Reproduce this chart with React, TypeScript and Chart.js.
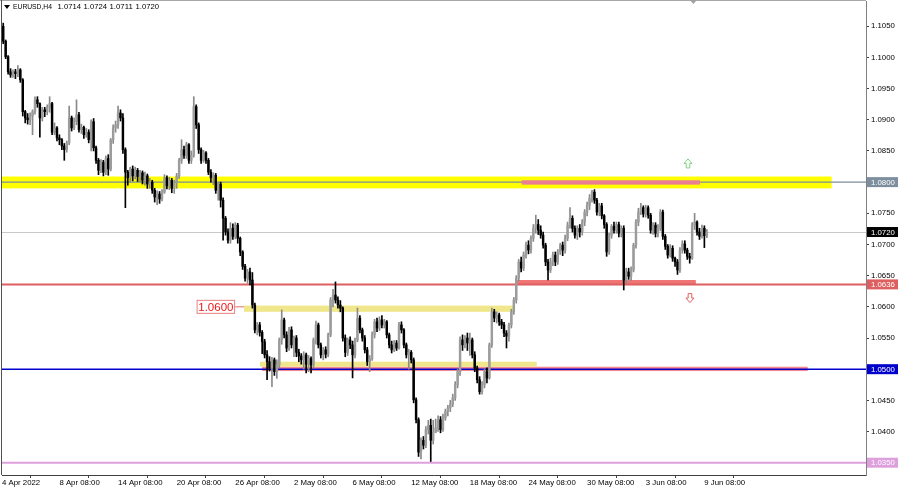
import React, { useEffect, useRef } from 'react';
import { Chart, registerables } from 'chart.js';

Chart.register(...registerables);

const FONT = '"Liberation Sans", Arial, sans-serif';

const symbolName = 'EURUSD,H4';
const firstOpen = 1.1050;

// H4 candles, 4 Apr 2022 -> 9 Jun 2022 (close, high, low per bar; open = previous close)
const closes = [
  1.1026, 1.1001, 1.0977, 1.0972, 1.0977, 1.0974, 1.0980, 1.0964, 1.0913, 1.0903,
  1.0900, 1.0906, 1.0913, 1.0932, 1.0926, 1.0903, 1.0916, 1.0913, 1.0919, 1.0926,
  1.0880, 1.0887, 1.0871, 1.0868, 1.0858, 1.0852, 1.0863, 1.0903, 1.0887, 1.0897,
  1.0908, 1.0884, 1.0888, 1.0876, 1.0880, 1.0868, 1.0897, 1.0855, 1.0835, 1.0819,
  1.0832, 1.0816, 1.0838, 1.0821, 1.0868, 1.0887, 1.0892, 1.0911, 1.0903, 1.0852,
  1.0816, 1.0807, 1.0821, 1.0810, 1.0819, 1.0809, 1.0815, 1.0803, 1.0810, 1.0797,
  1.0800, 1.0787, 1.0776, 1.0781, 1.0773, 1.0784, 1.0807, 1.0794, 1.0803, 1.0790,
  1.0799, 1.0810, 1.0835, 1.0852, 1.0843, 1.0860, 1.0835, 1.0843, 1.0921, 1.0892,
  1.0852, 1.0835, 1.0847, 1.0835, 1.0816, 1.0807, 1.0811, 1.0787, 1.0797, 1.0771,
  1.0742, 1.0720, 1.0707, 1.0726, 1.0713, 1.0731, 1.0710, 1.0688, 1.0665, 1.0646,
  1.0656, 1.0643, 1.0603, 1.0563, 1.0571, 1.0559, 1.0544, 1.0523, 1.0512, 1.0502,
  1.0515, 1.0496, 1.0507, 1.0547, 1.0579, 1.0555, 1.0534, 1.0563, 1.0539, 1.0550,
  1.0527, 1.0521, 1.0515, 1.0523, 1.0508, 1.0517, 1.0507, 1.0547, 1.0571, 1.0539,
  1.0523, 1.0531, 1.0524, 1.0555, 1.0611, 1.0619, 1.0611, 1.0603, 1.0598, 1.0550,
  1.0527, 1.0547, 1.0539, 1.0523, 1.0547, 1.0582, 1.0563, 1.0550, 1.0531, 1.0512,
  1.0517, 1.0555, 1.0576, 1.0566, 1.0579, 1.0571, 1.0576, 1.0555, 1.0539, 1.0531,
  1.0542, 1.0534, 1.0571, 1.0563, 1.0539, 1.0523, 1.0527, 1.0515, 1.0451, 1.0419,
  1.0367, 1.0386, 1.0378, 1.0403, 1.0410, 1.0386, 1.0399, 1.0406, 1.0419, 1.0403,
  1.0422, 1.0432, 1.0438, 1.0444, 1.0454, 1.0475, 1.0496, 1.0547, 1.0539, 1.0550,
  1.0542, 1.0547, 1.0523, 1.0502, 1.0483, 1.0464, 1.0475, 1.0496, 1.0486, 1.0539,
  1.0592, 1.0582, 1.0587, 1.0576, 1.0571, 1.0558, 1.0553, 1.0571, 1.0592, 1.0611,
  1.0646, 1.0672, 1.0662, 1.0683, 1.0699, 1.0691, 1.0710, 1.0726, 1.0732, 1.0723,
  1.0715, 1.0699, 1.0672, 1.0659, 1.0672, 1.0683, 1.0672, 1.0688, 1.0699, 1.0691,
  1.0710, 1.0731, 1.0742, 1.0726, 1.0715, 1.0726, 1.0720, 1.0736, 1.0752, 1.0763,
  1.0774, 1.0784, 1.0771, 1.0752, 1.0762, 1.0746, 1.0732, 1.0688, 1.0715, 1.0729,
  1.0723, 1.0732, 1.0718, 1.0726, 1.0643, 1.0656, 1.0649, 1.0659, 1.0699, 1.0736,
  1.0752, 1.0759, 1.0749, 1.0759, 1.0747, 1.0723, 1.0731, 1.0718, 1.0726, 1.0752,
  1.0713, 1.0697, 1.0683, 1.0694, 1.0678, 1.0672, 1.0659, 1.0691, 1.0701, 1.0691,
  1.0681, 1.0678, 1.0731, 1.0736, 1.0720, 1.0713, 1.0726, 1.0714, 1.0720,
];

const highs = [
  1.1055, 1.1028, 1.1003, 1.0982, 1.0980, 1.0981, 1.0987, 1.0982, 1.0966, 1.0915,
  1.0910, 1.0911, 1.0916, 1.0937, 1.0937, 1.0927, 1.0920, 1.0920, 1.0924, 1.0937,
  1.0928, 1.0895, 1.0889, 1.0876, 1.0870, 1.0862, 1.0866, 1.0922, 1.0906, 1.0903,
  1.0932, 1.0912, 1.0893, 1.0890, 1.0886, 1.0884, 1.0900, 1.0902, 1.0858, 1.0838,
  1.0836, 1.0835, 1.0842, 1.0844, 1.0870, 1.0892, 1.0898, 1.0922, 1.0916, 1.0910,
  1.0855, 1.0819, 1.0824, 1.0826, 1.0824, 1.0822, 1.0819, 1.0818, 1.0816, 1.0813,
  1.0806, 1.0803, 1.0790, 1.0786, 1.0785, 1.0788, 1.0812, 1.0810, 1.0808, 1.0806,
  1.0803, 1.0814, 1.0838, 1.0868, 1.0858, 1.0864, 1.0862, 1.0850, 1.0937, 1.0924,
  1.0895, 1.0855, 1.0851, 1.0849, 1.0838, 1.0820, 1.0815, 1.0814, 1.0800, 1.0800,
  1.0775, 1.0745, 1.0725, 1.0735, 1.0733, 1.0735, 1.0734, 1.0712, 1.0690, 1.0668,
  1.0660, 1.0662, 1.0655, 1.0606, 1.0575, 1.0575, 1.0562, 1.0548, 1.0530, 1.0520,
  1.0519, 1.0518, 1.0515, 1.0550, 1.0595, 1.0582, 1.0560, 1.0567, 1.0568, 1.0553,
  1.0554, 1.0532, 1.0525, 1.0528, 1.0526, 1.0522, 1.0520, 1.0550, 1.0577, 1.0574,
  1.0542, 1.0535, 1.0536, 1.0558, 1.0615, 1.0628, 1.0640, 1.0616, 1.0610, 1.0600,
  1.0555, 1.0550, 1.0552, 1.0545, 1.0550, 1.0598, 1.0586, 1.0566, 1.0554, 1.0535,
  1.0522, 1.0560, 1.0580, 1.0582, 1.0584, 1.0586, 1.0580, 1.0578, 1.0558, 1.0545,
  1.0546, 1.0546, 1.0575, 1.0576, 1.0565, 1.0542, 1.0532, 1.0530, 1.0518, 1.0454,
  1.0422, 1.0390, 1.0392, 1.0408, 1.0418, 1.0420, 1.0418, 1.0420, 1.0425, 1.0424,
  1.0428, 1.0436, 1.0442, 1.0450, 1.0460, 1.0480, 1.0500, 1.0552, 1.0555, 1.0554,
  1.0558, 1.0558, 1.0550, 1.0528, 1.0505, 1.0488, 1.0480, 1.0500, 1.0502, 1.0542,
  1.0598, 1.0596, 1.0592, 1.0590, 1.0580, 1.0575, 1.0562, 1.0574, 1.0596, 1.0615,
  1.0650, 1.0676, 1.0680, 1.0688, 1.0704, 1.0706, 1.0714, 1.0732, 1.0747, 1.0740,
  1.0730, 1.0720, 1.0702, 1.0676, 1.0678, 1.0688, 1.0688, 1.0692, 1.0702, 1.0704,
  1.0715, 1.0736, 1.0759, 1.0746, 1.0730, 1.0730, 1.0732, 1.0740, 1.0756, 1.0768,
  1.0780, 1.0787, 1.0788, 1.0774, 1.0766, 1.0766, 1.0748, 1.0735, 1.0718, 1.0732,
  1.0736, 1.0736, 1.0736, 1.0730, 1.0730, 1.0662, 1.0662, 1.0664, 1.0702, 1.0740,
  1.0758, 1.0766, 1.0762, 1.0763, 1.0762, 1.0750, 1.0735, 1.0735, 1.0732, 1.0756,
  1.0755, 1.0716, 1.0700, 1.0700, 1.0698, 1.0680, 1.0676, 1.0695, 1.0706, 1.0706,
  1.0694, 1.0686, 1.0735, 1.0750, 1.0738, 1.0726, 1.0731, 1.0730, 1.0724,
];

const lows = [
  1.1022, 1.0998, 1.0973, 1.0968, 1.0968, 1.0966, 1.0969, 1.0960, 1.0906, 1.0895,
  1.0893, 1.0892, 1.0876, 1.0909, 1.0920, 1.0872, 1.0898, 1.0905, 1.0908, 1.0912,
  1.0876, 1.0876, 1.0866, 1.0860, 1.0852, 1.0835, 1.0848, 1.0860, 1.0882, 1.0884,
  1.0892, 1.0880, 1.0878, 1.0870, 1.0872, 1.0863, 1.0850, 1.0850, 1.0830, 1.0812,
  1.0815, 1.0810, 1.0812, 1.0811, 1.0818, 1.0862, 1.0880, 1.0886, 1.0898, 1.0846,
  1.0759, 1.0795, 1.0800, 1.0802, 1.0805, 1.0801, 1.0800, 1.0797, 1.0795, 1.0790,
  1.0790, 1.0782, 1.0768, 1.0764, 1.0766, 1.0770, 1.0782, 1.0789, 1.0788, 1.0783,
  1.0782, 1.0790, 1.0806, 1.0830, 1.0838, 1.0838, 1.0830, 1.0830, 1.0840, 1.0886,
  1.0846, 1.0830, 1.0832, 1.0830, 1.0812, 1.0800, 1.0796, 1.0782, 1.0771, 1.0760,
  1.0707, 1.0715, 1.0702, 1.0702, 1.0708, 1.0709, 1.0702, 1.0682, 1.0660, 1.0641,
  1.0638, 1.0635, 1.0598, 1.0558, 1.0555, 1.0553, 1.0525, 1.0518, 1.0483, 1.0497,
  1.0472, 1.0490, 1.0485, 1.0502, 1.0540, 1.0550, 1.0528, 1.0530, 1.0534, 1.0520,
  1.0520, 1.0512, 1.0508, 1.0500, 1.0494, 1.0496, 1.0494, 1.0502, 1.0540, 1.0534,
  1.0518, 1.0515, 1.0518, 1.0520, 1.0552, 1.0600, 1.0606, 1.0598, 1.0592, 1.0545,
  1.0520, 1.0522, 1.0533, 1.0486, 1.0518, 1.0544, 1.0558, 1.0545, 1.0526, 1.0506,
  1.0496, 1.0514, 1.0550, 1.0560, 1.0562, 1.0566, 1.0566, 1.0550, 1.0534, 1.0526,
  1.0528, 1.0530, 1.0532, 1.0558, 1.0534, 1.0518, 1.0500, 1.0510, 1.0446, 1.0414,
  1.0360, 1.0356, 1.0372, 1.0374, 1.0396, 1.0352, 1.0380, 1.0398, 1.0400, 1.0398,
  1.0400, 1.0418, 1.0425, 1.0432, 1.0440, 1.0450, 1.0470, 1.0490, 1.0530, 1.0534,
  1.0530, 1.0522, 1.0518, 1.0496, 1.0478, 1.0460, 1.0460, 1.0470, 1.0478, 1.0484,
  1.0535, 1.0576, 1.0574, 1.0570, 1.0565, 1.0552, 1.0534, 1.0545, 1.0566, 1.0588,
  1.0606, 1.0642, 1.0656, 1.0658, 1.0678, 1.0685, 1.0686, 1.0705, 1.0718, 1.0716,
  1.0710, 1.0694, 1.0666, 1.0643, 1.0655, 1.0666, 1.0666, 1.0668, 1.0684, 1.0682,
  1.0686, 1.0706, 1.0726, 1.0720, 1.0710, 1.0708, 1.0712, 1.0715, 1.0730, 1.0746,
  1.0756, 1.0768, 1.0766, 1.0747, 1.0746, 1.0741, 1.0726, 1.0681, 1.0684, 1.0710,
  1.0718, 1.0718, 1.0712, 1.0712, 1.0627, 1.0638, 1.0644, 1.0642, 1.0656, 1.0694,
  1.0730, 1.0748, 1.0744, 1.0744, 1.0742, 1.0718, 1.0716, 1.0712, 1.0712, 1.0722,
  1.0708, 1.0692, 1.0678, 1.0680, 1.0673, 1.0665, 1.0652, 1.0655, 1.0686, 1.0686,
  1.0676, 1.0670, 1.0676, 1.0724, 1.0715, 1.0708, 1.0710, 1.0695, 1.0711,
];

// time axis (bar index of each label) and price axis ticks
const xTickBars = [-0.5, 23, 47, 71, 95, 119, 143, 167, 191, 215, 239, 263, 287];
const xTickLabels = [
  '4 Apr 2022', '8 Apr 08:00', '14 Apr 08:00', '20 Apr 08:00', '26 Apr 08:00',
  '2 May 08:00', '6 May 08:00', '12 May 08:00', '18 May 08:00', '24 May 08:00',
  '30 May 08:00', '3 Jun 08:00', '9 Jun 08:00',
];
const yTickValues = [
  1.035, 1.040, 1.045, 1.050, 1.055, 1.060, 1.065, 1.070,
  1.075, 1.080, 1.085, 1.090, 1.095, 1.100, 1.105,
];

// rectangles drawn on the chart: bar range and price range
const zoneFrom = [-0.5, 106.0, 98.6, 105.1, 210.2, 212.2];
const zoneTo = [339.1, 329.3, 208.7, 218.4, 283.5, 285.2];
const zoneLow = [1.0790, 1.0497, 1.0592, 1.0504, 1.0635, 1.0796];
const zoneHigh = [1.0809, 1.0504, 1.0602, 1.0512, 1.0643, 1.0803];

// horizontal levels
const levelPrices = [1.0800, 1.0636, 1.0500, 1.0350];

// text label "1.0600" and arrows
const textLabelPrice = 1.0600;
const arrowUpBar = 280.3;
const arrowUpPrice = 1.0830;
const arrowDownBar = 281.1;
const arrowDownPrice = 1.0614;
const shiftMarkerBar = 282.5;

const X_MIN = -0.5;
const X_MAX = 353.16;
const Y_MIN = 1.03303;
const Y_MAX = 1.10905;

// styles
const ZONE_COLORS = ['#ffff00', '#f48a8f', '#f0e68c', '#f0e68c', '#f07474', '#ea7f94'];
const LEVEL_COLORS = ['#7d8e9e', '#de5f5f', '#0000cd', '#dda0dd'];
const LEVEL_WIDTHS = [1.3, 2, 1.5, 2];
const BULL_BODY = '#9c9c9c';
const BULL_WICK = '#8a8a8a';
const BEAR = '#000000';

const drawLevel = (ctx: any, a: any, ys: any, k: number) => {
  const py = ys.getPixelForValue(levelPrices[k]);
  ctx.strokeStyle = LEVEL_COLORS[k];
  ctx.lineWidth = LEVEL_WIDTHS[k];
  ctx.beginPath();
  ctx.moveTo(a.left, py);
  ctx.lineTo(a.right, py);
  ctx.stroke();
};

const mtPlugin = {
  id: 'mtAnnotations',
  beforeDatasetsDraw(chart: any) {
    const { ctx, chartArea: a } = chart;
    const xs = chart.scales.x;
    const ys = chart.scales.y;
    ctx.save();
    ctx.beginPath();
    ctx.rect(a.left, a.top, a.right - a.left, a.bottom - a.top);
    ctx.clip();
    for (let k = 0; k < zoneFrom.length; k++) {
      const x1 = xs.getPixelForValue(zoneFrom[k]);
      const x2 = xs.getPixelForValue(zoneTo[k]);
      const y1 = ys.getPixelForValue(zoneHigh[k]);
      const y2 = ys.getPixelForValue(zoneLow[k]);
      ctx.fillStyle = ZONE_COLORS[k];
      ctx.fillRect(x1, y1, x2 - x1, y2 - y1);
      if (k === 0) drawLevel(ctx, a, ys, 0);
    }
    // current price line
    const last = closes[closes.length - 1];
    const pyLast = Math.round(ys.getPixelForValue(last)) + 0.5;
    ctx.strokeStyle = '#c8c8c8';
    ctx.lineWidth = 1;
    ctx.beginPath();
    ctx.moveTo(a.left, pyLast);
    ctx.lineTo(a.right, pyLast);
    ctx.stroke();
    for (let k = 1; k < levelPrices.length; k++) drawLevel(ctx, a, ys, k);
    ctx.restore();
  },
  afterDraw(chart: any) {
    const { ctx, chartArea: a } = chart;
    const xs = chart.scales.x;
    const ys = chart.scales.y;
    ctx.save();
    // frame
    ctx.lineWidth = 1;
    ctx.strokeStyle = '#a8a8a8';
    ctx.beginPath();
    ctx.moveTo(0, 0.5);
    ctx.lineTo(a.right, 0.5);
    ctx.stroke();
    ctx.strokeStyle = '#505050';
    ctx.beginPath();
    ctx.moveTo(1.5, 0);
    ctx.lineTo(1.5, a.bottom);
    ctx.stroke();
    // shift marker
    const sx = xs.getPixelForValue(shiftMarkerBar);
    ctx.fillStyle = '#a0a0a0';
    ctx.beginPath();
    ctx.moveTo(sx - 3.5, 0);
    ctx.lineTo(sx + 3.5, 0);
    ctx.lineTo(sx, 4);
    ctx.closePath();
    ctx.fill();
    // title
    ctx.fillStyle = '#000';
    ctx.beginPath();
    ctx.moveTo(4, 5);
    ctx.lineTo(10, 5);
    ctx.lineTo(7, 9);
    ctx.closePath();
    ctx.fill();
    ctx.font = `7.8px ${FONT}`;
    ctx.textBaseline = 'middle';
    ctx.textAlign = 'left';
    ctx.fillText(symbolName, 13, 7, 39);
    const li = closes.length - 1;
    const ohlc = [closes[li - 1], highs[li], lows[li], closes[li]];
    ohlc.forEach((v, k) => ctx.fillText(v.toFixed(4), 57.5 + k * 26, 7, 23.5));

    // "1.0600" text label attached to the zone
    const zx = xs.getPixelForValue(zoneFrom[2]);
    const ly = ys.getPixelForValue(textLabelPrice);
    const bw = 38.5;
    const bh = 14;
    const bx = zx - 9 - bw;
    ctx.strokeStyle = '#e06a6a';
    ctx.lineWidth = 1;
    ctx.beginPath();
    ctx.moveTo(zx - 9, ly);
    ctx.lineTo(zx, ly);
    ctx.stroke();
    ctx.fillStyle = '#ffffff';
    ctx.fillRect(bx, ly - bh / 2, bw, bh);
    ctx.strokeStyle = '#e88080';
    ctx.strokeRect(bx + 0.5, ly - bh / 2 + 0.5, bw - 1, bh - 1);
    ctx.fillStyle = '#f01818';
    ctx.font = `11.5px ${FONT}`;
    ctx.textAlign = 'center';
    ctx.fillText(textLabelPrice.toFixed(4), bx + bw / 2, ly + 0.5);

    // arrows
    const drawArrow = (cx: number, cy: number, dir: number, color: string) => {
      const h = 4.5 * dir;
      ctx.strokeStyle = color;
      ctx.lineWidth = 1;
      ctx.beginPath();
      ctx.moveTo(cx, cy - h);
      ctx.lineTo(cx + 4, cy);
      ctx.lineTo(cx + 1.8, cy);
      ctx.lineTo(cx + 1.8, cy + h);
      ctx.lineTo(cx - 1.8, cy + h);
      ctx.lineTo(cx - 1.8, cy);
      ctx.lineTo(cx - 4, cy);
      ctx.closePath();
      ctx.stroke();
    };
    drawArrow(xs.getPixelForValue(arrowUpBar), ys.getPixelForValue(arrowUpPrice), 1, '#7ad67a');
    drawArrow(xs.getPixelForValue(arrowDownBar), ys.getPixelForValue(arrowDownPrice), -1, '#e06060');

    // price boxes on the axis
    const boxes = [
      { v: levelPrices[0], c: LEVEL_COLORS[0] },
      { v: closes[li], c: '#000000' },
      { v: levelPrices[1], c: LEVEL_COLORS[1] },
      { v: levelPrices[2], c: LEVEL_COLORS[2] },
      { v: levelPrices[3], c: LEVEL_COLORS[3] },
    ];
    ctx.font = `7.8px ${FONT}`;
    ctx.textAlign = 'left';
    for (const b of boxes) {
      const py = ys.getPixelForValue(b.v);
      ctx.fillStyle = b.c;
      ctx.fillRect(a.right + 1, py - 5, 31, 10);
      ctx.fillStyle = '#ffffff';
      ctx.fillText(b.v.toFixed(4), a.right + 5, py + 0.5);
    }
    ctx.restore();
  },
};

export default function App() {
  const canvasRef = useRef<HTMLCanvasElement | null>(null);

  useEffect(() => {
    const canvas = canvasRef.current;
    if (!canvas) return;
    const opens = closes.map((c, i) => (i === 0 ? firstOpen : closes[i - 1]));
    const isUp = closes.map((c, i) => c >= opens[i]);
    const bodyData = closes.map((c, i) => ({ x: i, y: [opens[i], c] }));
    const wickData = closes.map((c, i) => ({
      x: i,
      y: [Math.min(lows[i], opens[i], c), Math.max(highs[i], opens[i], c)],
    }));

    const chart = new Chart(canvas, {
      type: 'bar',
      data: {
        datasets: [
          {
            data: bodyData as any,
            backgroundColor: isUp.map((u) => (u ? BULL_BODY : BEAR)),
            borderWidth: 0,
            barThickness: 1.8,
            minBarLength: 1,
            grouped: false,
            order: 0,
          } as any,
          {
            data: wickData as any,
            backgroundColor: isUp.map((u) => (u ? BULL_WICK : BEAR)),
            borderWidth: 0,
            barThickness: 1,
            grouped: false,
            order: 1,
          } as any,
        ],
      },
      options: {
        responsive: false,
        animation: false,
        devicePixelRatio: 1,
        layout: { padding: { left: 2, top: 1, right: 0, bottom: 0 } },
        plugins: { legend: { display: false }, tooltip: { enabled: false } },
        scales: {
          x: {
            type: 'linear',
            min: X_MIN,
            max: X_MAX,
            offset: false,
            grid: { drawOnChartArea: false, drawTicks: true, tickLength: 3, color: '#404040' },
            border: { color: '#404040' },
            afterBuildTicks: (s: any) => {
              s.ticks = xTickBars.map((v) => ({ value: v }));
            },
            afterFit: (s: any) => {
              s.height = 12;
              s.paddingLeft = 0;
              s.paddingRight = 0;
            },
            ticks: {
              autoSkip: false,
              maxRotation: 0,
              minRotation: 0,
              align: 'start',
              padding: 0,
              color: '#000',
              font: { family: FONT, size: 7.8 },
              callback: (_v: any, idx: number) => xTickLabels[idx],
            },
          } as any,
          y: {
            type: 'linear',
            position: 'right',
            min: Y_MIN,
            max: Y_MAX,
            grid: { drawOnChartArea: false, drawTicks: true, tickLength: 3, color: '#404040' },
            border: { color: '#808080' },
            afterBuildTicks: (s: any) => {
              s.ticks = yTickValues.map((v) => ({ value: v }));
            },
            afterFit: (s: any) => {
              s.width = 34;
              s.paddingTop = 0;
              s.paddingBottom = 0;
            },
            ticks: {
              autoSkip: false,
              padding: 2,
              color: '#000',
              font: { family: FONT, size: 7.8 },
              callback: (v: any) => Number(v).toFixed(4),
            },
          } as any,
        },
      },
      plugins: [mtPlugin],
    });
    return () => chart.destroy();
  }, []);

  return (
    <div style={{ position: 'fixed', left: 0, top: 0, width: 900, height: 487, background: '#ffffff' }}>
      <canvas ref={canvasRef} width={900} height={487} style={{ display: 'block' }} />
    </div>
  );
}
